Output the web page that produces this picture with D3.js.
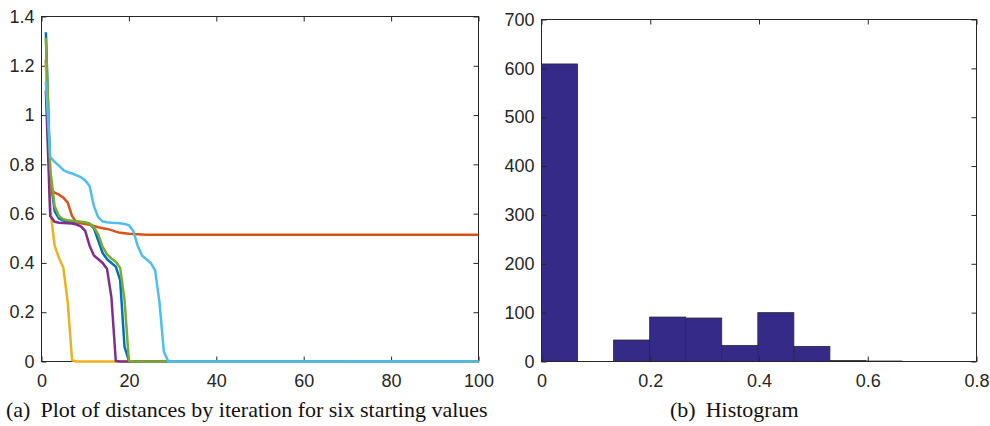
<!DOCTYPE html>
<html>
<head>
<meta charset="utf-8">
<script src="https://cdn.jsdelivr.net/npm/d3@7"></script>
<style>
  html, body { margin: 0; padding: 0; background: #fff; }
  svg { display: block; }
</style>
</head>
<body>
<svg id="chart" width="990" height="426"></svg>
<script>
// ---------------- DATA ----------------
// Left panel: distance by iteration, six starting values
const seriesNames = ["start1", "start2", "start3", "start4", "start5", "start6"];
const seriesColors = ["#0072BD", "#D95319", "#EDB120", "#7E2F8E", "#77AC30", "#4DBEEE"];

const blueIter = [1,2,3,4,5,6,7,8,9,10,11,12,13,14,15,16,17,18,19,20,100];
const blueVal  = [1.336,0.75,0.61,0.58,0.572,0.569,0.567,0.566,0.565,0.563,0.558,0.54,0.49,0.44,0.415,0.40,0.385,0.33,0.06,0.002,0];

const orangeIter = [1,2,3,4,5,6,7,8,9,10,11,12,13,14,15,16,17,18,19,20,21,22,23,24,100];
const orangeVal  = [1.225,0.70,0.685,0.677,0.665,0.645,0.59,0.565,0.561,0.558,0.555,0.55,0.545,0.541,0.538,0.533,0.527,0.522,0.52,0.518,0.517,0.516,0.515,0.514,0.514];

const yellowIter = [1,2,3,4,5,6,7,8,100];
const yellowVal  = [1.21,0.62,0.47,0.42,0.38,0.24,0.005,0,0];

const purpleIter = [1,2,3,4,5,6,7,8,9,10,11,12,13,14,15,16,17,18,100];
const purpleVal  = [1.1,0.59,0.567,0.563,0.562,0.561,0.56,0.556,0.548,0.53,0.47,0.43,0.415,0.40,0.375,0.26,0.002,0,0];

const greenIter = [1,2,3,4,5,6,7,8,9,10,11,12,13,14,15,16,17,18,19,20,21,100];
const greenVal  = [1.313,0.78,0.63,0.59,0.577,0.573,0.571,0.569,0.567,0.565,0.56,0.545,0.515,0.465,0.435,0.418,0.405,0.38,0.25,0.003,0,0];

const lightblueIter = [1,2,3,4,5,6,7,8,9,10,11,12,13,14,15,16,17,18,19,20,21,22,23,24,25,26,27,28,29,30,100];
const lightblueVal  = [1.134,0.83,0.81,0.795,0.777,0.768,0.763,0.755,0.748,0.735,0.712,0.63,0.585,0.568,0.565,0.563,0.562,0.561,0.558,0.553,0.53,0.47,0.43,0.415,0.40,0.37,0.24,0.04,0.0005,0,0];

const leftXTicks = [0, 20, 40, 60, 80, 100];
const leftYTicks = [0, 0.2, 0.4, 0.6, 0.8, 1, 1.2, 1.4];
const leftYTickLabels = ["0", "0.2", "0.4", "0.6", "0.8", "1", "1.2", "1.4"];

// Right panel: histogram
const binEdges = [0, 0.0663, 0.1326, 0.1989, 0.2652, 0.3315, 0.3978, 0.4641, 0.5304, 0.5967, 0.663];
const binCounts = [609, 0, 44, 91, 89, 33, 100, 31, 2, 1];
const rightXTicks = [0, 0.2, 0.4, 0.6, 0.8];
const rightXTickLabels = ["0", "0.2", "0.4", "0.6", "0.8"];
const rightYTicks = [0, 100, 200, 300, 400, 500, 600, 700];

const captionA = ["(a)", "Plot of distances by iteration for six starting values"];
const captionB = ["(b)", "Histogram"];

// ---------------- DRAW ----------------
const svg = d3.select("#chart");
const axisColor = "#262626";
const tickFont = "'Liberation Sans', Arial, Helvetica, sans-serif";
const capFont = "'Liberation Serif', 'Times New Roman', serif";
const tickSize = 18;

function box(g, x, y, xTicks, yTicks, xFmt, yFmt) {
  const [x0, x1] = x.range();
  const [y0, y1] = y.range(); // y0 bottom, y1 top
  const gb = g.append("g").attr("transform", `translate(0,${y0})`)
    .call(d3.axisBottom(x).tickValues(xTicks).tickFormat(xFmt).tickSizeInner(-5).tickSizeOuter(0).tickPadding(13));
  const gl = g.append("g").attr("transform", `translate(${x0},0)`)
    .call(d3.axisLeft(y).tickValues(yTicks).tickFormat(yFmt).tickSizeInner(-5).tickSizeOuter(0).tickPadding(7));
  const gt = g.append("g").attr("transform", `translate(0,${y1})`)
    .call(d3.axisTop(x).tickValues(xTicks).tickFormat("").tickSizeInner(-5).tickSizeOuter(0));
  const gr = g.append("g").attr("transform", `translate(${x1},0)`)
    .call(d3.axisRight(y).tickValues(yTicks).tickFormat("").tickSizeInner(-5).tickSizeOuter(0));
  [gb, gl, gt, gr].forEach(a => {
    a.select(".domain").remove();
    a.selectAll("line").attr("stroke", axisColor);
    a.selectAll("text").attr("fill", "#262626").style("font-family", tickFont).style("font-size", tickSize + "px");
  });
  g.append("rect")
    .attr("x", x0).attr("y", y1).attr("width", x1 - x0).attr("height", y0 - y1)
    .attr("fill", "none").attr("stroke", axisColor).attr("stroke-width", 1);
}

// Left panel
const xL = d3.scaleLinear().domain([0, 100]).range([41.5, 478.5]);
const yL = d3.scaleLinear().domain([0, 1.4]).range([361.5, 16.5]);
const gL = svg.append("g");
box(gL, xL, yL, leftXTicks, leftYTicks, d => String(d), (d, i) => leftYTickLabels[i]);

const seriesData = [
  [blueIter, blueVal], [orangeIter, orangeVal], [yellowIter, yellowVal],
  [purpleIter, purpleVal], [greenIter, greenVal], [lightblueIter, lightblueVal]
];
const line = d3.line().x(d => xL(d[0])).y(d => yL(d[1]));
seriesData.forEach(([it, vals], k) => {
  gL.append("path")
    .datum(it.map((t, i) => [t, vals[i]]))
    .attr("d", line)
    .attr("fill", "none")
    .attr("stroke", seriesColors[k])
    .attr("stroke-width", 2.5)
    .attr("stroke-linejoin", "round")
    .attr("class", seriesNames[k]);
});

// Right panel
const xR = d3.scaleLinear().domain([0, 0.8]).range([541.5, 976.5]);
const yR = d3.scaleLinear().domain([0, 700]).range([361.5, 19.5]);
const gR = svg.append("g");
gR.selectAll("rect.bar")
  .data(binCounts)
  .join("rect")
  .attr("class", "bar")
  .attr("x", (d, i) => xR(binEdges[i]))
  .attr("width", (d, i) => xR(binEdges[i + 1]) - xR(binEdges[i]))
  .attr("y", d => yR(d))
  .attr("height", d => yR(0) - yR(d))
  .attr("fill", "#352A87")
  .attr("stroke", d => d > 0 ? "#2a2a2a" : "none")
  .attr("stroke-width", 0.8);
box(gR, xR, yR, rightXTicks, rightYTicks, (d, i) => rightXTickLabels[i], d => String(d));

// Captions
function caption(x, y, parts) {
  const t = svg.append("text").attr("x", x).attr("y", y)
    .style("font-family", capFont).style("font-size", "22px").attr("fill", "#111");
  t.append("tspan").text(parts[0]);
  t.append("tspan").attr("dx", 10).text(parts[1]);
}
caption(6, 417, captionA);
caption(670, 417, captionB);
</script>
</body>
</html>
